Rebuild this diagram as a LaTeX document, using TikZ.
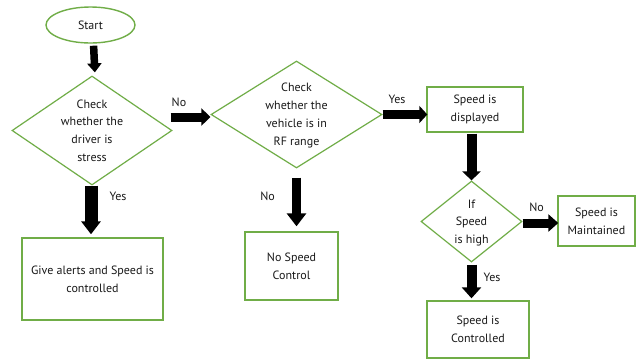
\documentclass[tikz,border=0pt]{standalone}
\usepackage{fontspec}
\setmainfont{PT Sans}
\usetikzlibrary{shapes.geometric,arrows.meta,calc}
\definecolor{og}{RGB}{112,173,71}
\definecolor{ink}{RGB}{25,25,25}
\begin{document}
\begin{tikzpicture}[x=1pt,y=-1pt,
  font=\fontsize{12}{17.8}\selectfont,
  box/.style={draw=og, line width=1.4pt, rectangle, inner sep=0pt},
  dia/.style={draw=og, line width=1.2pt, diamond, inner sep=0pt},
  txt/.style={align=center, inner sep=0pt, text=ink},
  lbl/.style={inner sep=0pt, text=ink},
  barrow/.style n args={3}{draw=black, line width=#1, -{Triangle[width=#2,length=#3]}},
]
\useasboundingbox[fill=white] (0,0) rectangle (636,360);

% shapes
\node[draw=og, line width=1.4pt, ellipse, minimum width=89pt, minimum height=36pt, inner sep=0pt] (start) at (90.5,25) {};
\node[dia, minimum width=160pt, minimum height=109pt] (d1) at (92,130.5) {};
\node[dia, minimum width=171pt, minimum height=107pt] (d2) at (296.5,114.5) {};
\node[box, minimum width=96pt, minimum height=45pt] (disp) at (475,109.5) {};
\node[dia, minimum width=101pt, minimum height=81pt] (d3) at (471.5,221.5) {};
\node[box, minimum width=77pt, minimum height=50pt] (maint) at (596.5,221) {};
\node[box, minimum width=102pt, minimum height=57pt] (ctrl) at (478,329.5) {};
\node[box, minimum width=141pt, minimum height=82pt] (give) at (92.5,279) {};
\node[box, minimum width=93pt, minimum height=68pt] (nosp) at (291.5,266) {};

% texts
\node[txt] (tstart) at (start) {Start};
\node[txt] (td1) at (d1) {Check\\whether the\\driver is\\stress};
\node[txt] (td2) at (296.5,115.5) {Check\\whether the\\vehicle is in\\RF range};
\node[txt] (tdisp) at (disp) {Speed is\\displayed};
\node[txt] (td3) at (471.5,223) {If\\Speed\\is high};
\node[txt] (tmaint) at (maint) {Speed is\\Maintained};
\node[txt] (tctrl) at (ctrl) {Speed is\\Controlled};
\node[txt] (tgive) at (give) {Give alerts and Speed is\\controlled};
\node[txt] (tnosp) at (nosp) {No Speed\\Control};

% connectors
\draw[barrow={7.5pt}{14pt}{9pt}, shorten <=2pt, shorten >=3pt] ([xshift=3pt]start.south) -- ([xshift=3pt]d1.north);
\draw[barrow={9pt}{17pt}{9pt}, shorten <=-2pt] ([yshift=-2.5pt]d2.west -| d1.east) -- ([yshift=-2.5pt]d2.west);
\draw[barrow={9pt}{17pt}{8pt}, shorten >=-1pt] (d2.east) -- (d2.east -| disp.west);
\draw[barrow={10pt}{18pt}{9pt}, shorten <=1pt, shorten >=0pt] (d3.north |- disp.south) -- (d3.north);
\draw[barrow={9pt}{17pt}{10pt}, shorten >=-1pt] ([yshift=-1.5pt]d3.east) -- ([yshift=-1.5pt]d3.east -| maint.west);
\draw[barrow={10pt}{19pt}{11pt}, shorten <=2pt, shorten >=2pt] (d3.south) -- (d3.south |- ctrl.north);
\draw[barrow={13pt}{19pt}{13pt}, shorten >=3pt] ([xshift=-1pt]d1.south) -- ([xshift=-1pt]d1.south |- give.north);
\draw[barrow={9pt}{19pt}{13pt}, shorten <=9pt, shorten >=5pt] (d2.south) -- (d2.south |- nosp.north);

% labels
\node[lbl] (lno1) at (179,102) {No};
\node[lbl] (lyes1) at (397,99) {Yes};
\node[lbl] (lyes2) at (118,196.5) {Yes};
\node[lbl] (lno2) at (267.5,196) {No};
\node[lbl] (lno3) at (536.5,207.5) {No};
\node[lbl] (lyes3) at (492,277.5) {Yes};
\end{tikzpicture}
\end{document}
